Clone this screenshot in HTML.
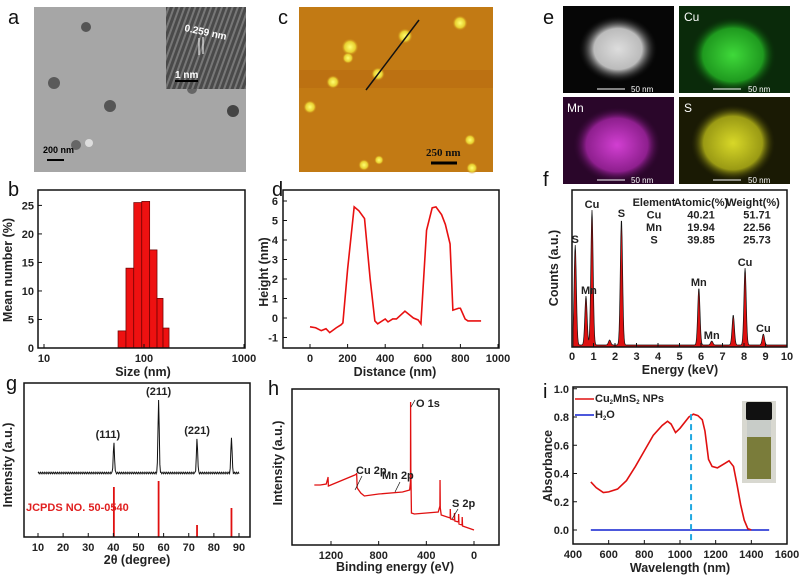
<!DOCTYPE html>
<html><head><meta charset="utf-8"><style>
html,body{margin:0;padding:0;background:#fff;}
svg{display:block;font-family:"Liberation Sans",Arial,sans-serif;}
.t{font-size:11px;font-weight:bold;fill:#222;}
.at{font-size:12.5px;font-weight:bold;fill:#222;}
.pl{font-size:20px;fill:#111;}
</style></head><body>
<svg id="fig" width="803" height="577" viewBox="0 0 803 577" xmlns="http://www.w3.org/2000/svg">
<defs>
<radialGradient id="gw"><stop offset="0" stop-color="#ddd"/><stop offset="0.6" stop-color="#bbb"/><stop offset="1" stop-color="#000" stop-opacity="0"/></radialGradient>
<radialGradient id="gg"><stop offset="0" stop-color="#3fd93a"/><stop offset="0.7" stop-color="#1f9a1f"/><stop offset="1" stop-color="#063006" stop-opacity="0"/></radialGradient>
<radialGradient id="gm"><stop offset="0" stop-color="#d23fd2"/><stop offset="0.7" stop-color="#8e1f8e"/><stop offset="1" stop-color="#300630" stop-opacity="0"/></radialGradient>
<radialGradient id="gy"><stop offset="0" stop-color="#d8d828"/><stop offset="0.7" stop-color="#9a9a14"/><stop offset="1" stop-color="#2a2a04" stop-opacity="0"/></radialGradient>
<radialGradient id="blob"><stop offset="0" stop-color="#ffff70"/><stop offset="0.6" stop-color="#e8d030"/><stop offset="1" stop-color="#c07010" stop-opacity="0"/></radialGradient>
<pattern id="lat" width="5" height="5" patternUnits="userSpaceOnUse" patternTransform="rotate(20)"><rect width="5" height="5" fill="#4a4a4a"/><rect width="2" height="5" fill="#777"/></pattern>
</defs>

<text class="pl" x="8" y="24">a</text>
<text class="pl" x="278" y="24">c</text>
<text class="pl" x="543" y="24">e</text>
<text class="pl" x="8" y="196">b</text>
<text class="pl" x="272" y="196">d</text>
<text class="pl" x="543" y="186">f</text>
<text class="pl" x="6" y="390">g</text>
<text class="pl" x="268" y="395">h</text>
<text class="pl" x="543" y="398">i</text>

<g>
<rect x="34" y="7" width="212" height="165" fill="#a6a6a6"/>
<circle cx="86" cy="27" r="5" fill="#555"/><circle cx="54" cy="83" r="6" fill="#5a5a5a"/>
<circle cx="110" cy="106" r="6" fill="#555"/><circle cx="233" cy="111" r="6" fill="#444"/>
<circle cx="76" cy="145" r="5" fill="#666"/><circle cx="89" cy="143" r="4" fill="#ddd"/>
<circle cx="192" cy="89" r="5" fill="#666"/>
<rect x="166" y="7" width="80" height="82" fill="url(#lat)"/>
<text x="184" y="31" fill="#fff" font-size="10" font-weight="bold" transform="rotate(12 184 31)">0.259 nm</text>
<line x1="199" y1="38" x2="199" y2="55" stroke="#fff"/><line x1="203" y1="37" x2="203" y2="54" stroke="#fff"/>
<text x="175" y="78" fill="#fff" font-size="10" font-weight="bold">1 nm</text>
<line x1="175" y1="81" x2="198" y2="81" stroke="#000" stroke-width="2"/>
<text x="43" y="153" fill="#000" font-size="9" font-weight="bold">200 nm</text>
<line x1="47" y1="160" x2="64" y2="160" stroke="#000" stroke-width="2"/>
</g>

<g>
<rect x="299" y="7" width="194" height="165" fill="#c27a14"/>
<rect x="299" y="70" width="194" height="18" fill="#b86a10" opacity="0.6"/>
<circle cx="350" cy="47" r="9" fill="url(#blob)"/><circle cx="348" cy="58" r="6" fill="url(#blob)"/>
<circle cx="405" cy="36" r="8" fill="url(#blob)"/><circle cx="460" cy="23" r="8" fill="url(#blob)"/>
<circle cx="378" cy="74" r="7" fill="url(#blob)"/><circle cx="333" cy="82" r="7" fill="url(#blob)"/>
<circle cx="310" cy="107" r="7" fill="url(#blob)"/><circle cx="470" cy="140" r="6" fill="url(#blob)"/>
<circle cx="379" cy="160" r="5" fill="url(#blob)"/><circle cx="364" cy="165" r="6" fill="url(#blob)"/>
<circle cx="472" cy="168" r="6" fill="url(#blob)"/>
<line x1="366" y1="90" x2="419" y2="20" stroke="#111" stroke-width="1.5"/>
<text x="426" y="156" font-family="Liberation Serif,serif" font-weight="bold" font-size="11" fill="#111">250 nm</text>
<line x1="431" y1="163" x2="457" y2="163" stroke="#000" stroke-width="3"/>
</g>

<g>
<rect x="563" y="6" width="111" height="87" fill="#060606"/>
<ellipse cx="618" cy="49" rx="40" ry="34" fill="url(#gw)"/>
<rect x="679" y="6" width="111" height="87" fill="#0a2a0a"/>
<ellipse cx="733" cy="55" rx="43" ry="38" fill="url(#gg)"/>
<text x="684" y="21" fill="#fff" font-size="12">Cu</text>
<rect x="563" y="97" width="111" height="87" fill="#2a062a"/>
<ellipse cx="617" cy="145" rx="44" ry="38" fill="url(#gm)"/>
<text x="567" y="112" fill="#fff" font-size="12">Mn</text>
<rect x="679" y="97" width="111" height="87" fill="#1a1a04"/>
<ellipse cx="733" cy="143" rx="42" ry="38" fill="url(#gy)"/>
<text x="684" y="112" fill="#fff" font-size="12">S</text>
<g stroke="#fff" stroke-width="1">
<line x1="597" y1="89" x2="625" y2="89"/><line x1="713" y1="89" x2="741" y2="89"/>
<line x1="597" y1="180" x2="625" y2="180"/><line x1="713" y1="180" x2="741" y2="180"/></g>
<g fill="#fff" font-size="8"><text x="631" y="92">50 nm</text><text x="748" y="92">50 nm</text><text x="631" y="183">50 nm</text><text x="748" y="183">50 nm</text></g>
</g>

<g id="charts"></g>
</svg>
<script>
const bEdges=[55,66,79,95,114,135,155,178];
const bHeights=[3,14,25.5,25.7,17.2,8.7,3.5];
const bYTicks=[0,5,10,15,20,25];
const bXTicks=[10,100,1000];
const dDist=[0,30,60,85,105,140,165,175,200,235,260,290,320,345,360,400,415,440,460,505,550,575,590,620,650,670,700,720,745,760,790,800,825,840,910];
const dHeight=[-0.45,-0.5,-0.65,-0.55,-0.75,-0.5,-0.35,-0.25,2.5,5.7,5.5,5.1,2,-0.15,-0.3,-0.05,-0.2,-0.05,-0.05,0.35,0,-0.1,-0.3,4.5,5.65,5.7,5.3,4.8,3.8,0.4,0.5,0.5,-0.05,-0.15,-0.15];
const dXTicks=[0,200,400,600,800,1000];
const dYTicks=[-1,0,1,2,3,4,5,6];
const fPeakE=[0.15,0.65,0.93,1.75,2.3,5.9,6.5,7.5,8.05,8.9];
const fPeakH=[100,49,135,5,126,57,4,30,77,11];
const fPeakLabel=["S","Mn","Cu","","S","Mn","Mn","","Cu","Cu"];
const fXTicks=[0,1,2,3,4,5,6,7,8,9,10];
const fTable=[["Element","Atomic(%)","Weight(%)"],["Cu","40.21","51.71"],["Mn","19.94","22.56"],["S","39.85","25.73"]];
const gPeak2T=[40.2,58,73.3,87];
const gPeakH=[30,73,34,36];
const gPeakLabel=["(111)","(211)","(221)",""];
const gRefH=[50,56,12,29];
const gXTicks=[10,20,30,40,50,60,70,80,90];
const hE=[1340,1290,1240,1226,1225,1222,1000,986,985,980,950,920,800,600,540,533,532,530,525,500,300,286,285,283,275,200,199,196,165,164,161,130,129,126,100,99,96,0];
const hI=[45,45,46,52,53,44,55,56,57,42,37,34,36,38,40,48,128,60,17,16,18,24,50,22,15,12,21,11,10,17,9,8,16,6,5,13,4,0];
const hXTicks=[1200,800,400,0];
const iWl=[500,530,570,600,650,700,750,800,850,900,930,950,975,1000,1050,1075,1100,1125,1140,1160,1180,1210,1250,1275,1300,1320,1340,1360,1380,1400];
const iAbs=[0.34,0.30,0.265,0.27,0.29,0.35,0.45,0.56,0.67,0.74,0.77,0.75,0.69,0.72,0.80,0.82,0.81,0.78,0.70,0.50,0.45,0.44,0.47,0.49,0.45,0.32,0.18,0.07,0.01,0.0];
const iWater=[0,0,0,0];
const iWaterWl=[500,800,1100,1500];
const iPeakWl=1062;
const iXTicks=[400,600,800,1000,1200,1400,1600];
const iYTicks=[0.0,0.2,0.4,0.6,0.8,1.0];

const NS="http://www.w3.org/2000/svg";
const root=document.getElementById('charts');
function mk(tag,attrs,parent){const e=document.createElementNS(NS,tag);for(const k in attrs)e.setAttribute(k,attrs[k]);(parent||root).appendChild(e);return e;}
function txt(x,y,s,cls,anchor,parent,extra){const e=mk('text',Object.assign({x:x,y:y,class:cls,'text-anchor':anchor||'middle'},extra||{}),parent);e.textContent=s;return e;}
function lin(a0,a1,p0,p1){return v=>p0+(v-a0)*(p1-p0)/(a1-a0);}
function frame(g,x0,y0,x1,y1){mk('rect',{x:x0,y:y0,width:x1-x0,height:y1-y0,fill:'none',stroke:'#111','stroke-width':1.5},g);}

{const g=mk('g',{});


const L=38,R=245,T=190,B=348;
const X=v=>44+(Math.log10(v)-1)*100, Y=lin(0,27.7,B,T);
for(let i=0;i<bHeights.length;i++){const r=mk('rect',{x:X(bEdges[i]),y:Y(bHeights[i]),width:X(bEdges[i+1])-X(bEdges[i]),height:B-Y(bHeights[i]),fill:'#ee1111',stroke:'#600','stroke-width':0.7},g);

}
frame(g,L,T,R,B);
bYTicks.forEach(v=>{mk('line',{x1:L,x2:L+4,y1:Y(v),y2:Y(v),stroke:'#111'},g);txt(L-4,Y(v)+4,v,'t','end',g);});
bXTicks.forEach(v=>{mk('line',{x1:X(v),x2:X(v),y1:B,y2:B-4,stroke:'#111'},g);txt(X(v),B+14,v,'t','middle',g);});
txt(143,376,'Size (nm)','at','middle',g);
txt(12,270,'Mean number (%)','at','middle',g,{transform:'rotate(-90 12 270)'});}

{const g=mk('g',{});


const L=283,R=499,T=190,B=348;
const X=lin(0,1000,310,498), Y=lin(0,6,318,201);
frame(g,L,T,R,B);
const p=mk('polyline',{points:dDist.map((d,i)=>X(d)+','+Y(dHeight[i])).join(' '),fill:'none',stroke:'#e81010','stroke-width':1.6},g);


dXTicks.forEach(v=>{mk('line',{x1:X(v),x2:X(v),y1:B,y2:B-4,stroke:'#111'},g);txt(X(v),B+14,v,'t','middle',g);});
dYTicks.forEach(v=>{mk('line',{x1:L,x2:L+4,y1:Y(v),y2:Y(v),stroke:'#111'},g);txt(L-5,Y(v)+4,v,'t','end',g);});
txt(395,376,'Distance (nm)','at','middle',g);
txt(268,272,'Height (nm)','at','middle',g,{transform:'rotate(-90 268 272)'});}

{const g=mk('g',{});


const L=572,R=787,T=190,B=347;
const X=lin(0,10,572,787), Y=v=>B-v;
const pts=[];for(let e=0.05;e<=10;e+=0.02){let c=2;fPeakE.forEach((pe,i)=>{c+=fPeakH[i]*Math.exp(-Math.pow((e-pe)/0.075,2));});pts.push([X(e),Y(c)]);}
const ar=mk('path',{d:'M'+X(0.05)+','+B+' L'+pts.map(p=>p.join(',')).join(' L')+' L'+X(10)+','+B+'Z',fill:'#dd1010',stroke:'#111','stroke-width':0.7},g);


fPeakE.forEach((pe,i)=>{if(fPeakLabel[i])txt(X(pe)+(i==1?3:0),Y(fPeakH[i]+2)-2,fPeakLabel[i],'t','middle',g,{'font-size':'8.5'});});
frame(g,L,T,R,B);
fXTicks.forEach(v=>{mk('line',{x1:X(v),x2:X(v),y1:B,y2:B-4,stroke:'#111'},g);txt(X(v),B+13,v,'t','middle',g);});
const cols=[654,701,753];
fTable.forEach((row,r)=>row.forEach((c,j)=>txt(cols[j]+(r>0&&j==2?4:0),206+r*12.5,c,'t','middle',g,{'font-size':'7.5'})));
txt(680,374,'Energy (keV)','at','middle',g);
txt(558,268,'Counts (a.u.)','at','middle',g,{transform:'rotate(-90 558 268)'});}

{const g=mk('g',{});


const L=24,R=250,T=383,B=537;
const X=lin(10,90,38,239), base=473;
const pts=[];for(let t=10;t<=90;t+=0.25){let c=0;gPeak2T.forEach((p,i)=>{c+=gPeakH[i]*Math.exp(-Math.pow((t-p)/0.35,2));});c+=((Math.round(t*4)%3)-1)*0.8;pts.push(X(t)+','+(base-c));}
const p=mk('polyline',{points:pts.join(' '),fill:'none',stroke:'#111','stroke-width':1},g);


gPeak2T.forEach((t,i)=>{const r=mk('line',{x1:X(t),x2:X(t),y1:B,y2:B-gRefH[i],stroke:'#e01010','stroke-width':1.8},g);


if(gPeakLabel[i])txt(X(t)-3*(i==0?2:0),base-gPeakH[i]-5,gPeakLabel[i],'t','middle',g,{'font-size':'9.5'});});
frame(g,L,T,R,B);
gXTicks.forEach(v=>{mk('line',{x1:X(v),x2:X(v),y1:B,y2:B-4,stroke:'#111'},g);txt(X(v),B+14,v,'t','middle',g);});
txt(26,511,'JCPDS NO. 50-0540','t','start',g,{fill:'#e02020','font-size':'9',style:'fill:#e02020'});
txt(137,564,'2θ (degree)','at','middle',g);
txt(12,465,'Intensity (a.u.)','at','middle',g,{transform:'rotate(-90 12 465)'});}

{const g=mk('g',{});


const L=292,R=499,T=389,B=545;
const X=lin(1200,0,331,474), Y=v=>530-v;
const p=mk('polyline',{points:hE.map((e,i)=>X(e)+','+Y(hI[i])).join(' '),fill:'none',stroke:'#e01010','stroke-width':1.3},g);


frame(g,L,T,R,B);
hXTicks.forEach(v=>{mk('line',{x1:X(v),x2:X(v),y1:B,y2:B-4,stroke:'#111'},g);txt(X(v),B+14,v,'t','middle',g);});
txt(416,407,'O 1s','t','start',g,{'font-size':'9.5'});
mk('line',{x1:415,y1:400,x2:411,y2:407,stroke:'#111','stroke-width':0.7},g);
txt(356,474,'Cu 2p','t','start',g,{'font-size':'9.5'});
mk('line',{x1:362,y1:476,x2:355,y2:490,stroke:'#111','stroke-width':0.7},g);
txt(382,479,'Mn 2p','t','start',g,{'font-size':'9.5'});
mk('line',{x1:400,y1:482,x2:395,y2:492,stroke:'#111','stroke-width':0.7},g);
txt(452,507,'S 2p','t','start',g,{'font-size':'9.5'});
mk('line',{x1:458,y1:509,x2:452,y2:519,stroke:'#111','stroke-width':0.7},g);
txt(395,571,'Binding energy (eV)','at','middle',g);
txt(282,463,'Intensity (a.u.)','at','middle',g,{transform:'rotate(-90 282 463)'});}

{const g=mk('g',{});


const L=573,R=787,T=387,B=544;
const X=lin(400,1600,573,787), Y=lin(0,0.8,530,417);
frame(g,L,T,R,B);
const w=mk('polyline',{points:iWaterWl.map((x,i)=>X(x)+','+Y(iWater[i])).join(' '),fill:'none',stroke:'#1020d0','stroke-width':1.6},g);


const r=mk('polyline',{points:iWl.map((x,i)=>X(x)+','+Y(iAbs[i])).join(' '),fill:'none',stroke:'#e01010','stroke-width':1.6},g);


const dl=mk('line',{x1:X(iPeakWl),x2:X(iPeakWl),y1:Y(0.82),y2:B,stroke:'#20a8e0','stroke-width':2,'stroke-dasharray':'6,4'},g);


iXTicks.forEach(v=>{mk('line',{x1:X(v),x2:X(v),y1:B,y2:B-4,stroke:'#111'},g);txt(X(v),B+14,v,'t','middle',g);});
iYTicks.forEach(v=>{mk('line',{x1:L,x2:L+4,y1:Y(v),y2:Y(v),stroke:'#111'},g);txt(L-4,Y(v)+4,v.toFixed(1),'t','end',g);});
mk('line',{x1:575,x2:594,y1:399,y2:399,stroke:'#e01010','stroke-width':1.6},g);
const l1=txt(595,402,'','t','start',g,{'font-size':'8.5'});l1.innerHTML='Cu<tspan dy="2" font-size="6">2</tspan><tspan dy="-2">MnS</tspan><tspan dy="2" font-size="6">2</tspan><tspan dy="-2"> NPs</tspan>';


mk('line',{x1:575,x2:594,y1:415,y2:415,stroke:'#1020d0','stroke-width':1.6},g);
const l2=txt(595,418,'','t','start',g,{'font-size':'8.5'});l2.innerHTML='H<tspan dy="2" font-size="6">2</tspan><tspan dy="-2">O</tspan>';


mk('rect',{x:742,y:401,width:34,height:82,fill:'#d8d8d0'},g);
mk('rect',{x:746,y:402,width:26,height:18,fill:'#111',rx:2},g);
mk('rect',{x:747,y:420,width:24,height:17,fill:'#c8ccc8'},g);
mk('rect',{x:747,y:437,width:24,height:42,fill:'#7a7c3a'},g);
txt(680,572,'Wavelength (nm)','at','middle',g);
txt(552,466,'Absorbance','at','middle',g,{transform:'rotate(-90 552 466)'});}
</script>
</body></html>
